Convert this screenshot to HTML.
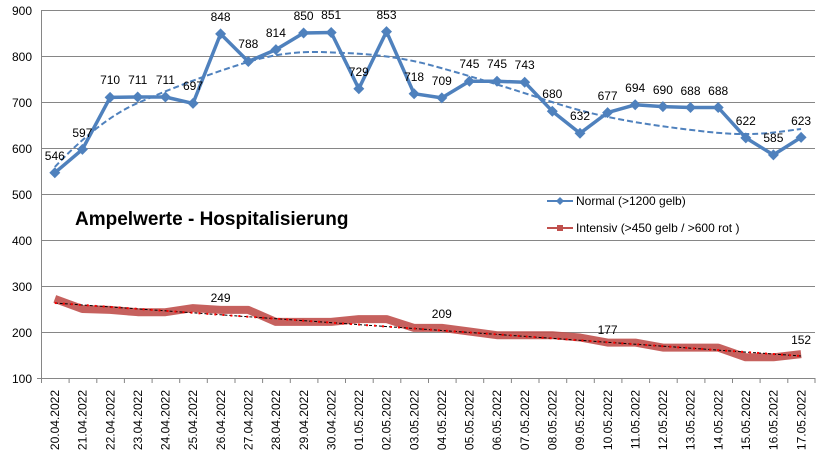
<!DOCTYPE html>
<html><head><meta charset="utf-8"><style>body{margin:0;background:#fff}svg{display:block}text{font-family:"Liberation Sans",Arial,sans-serif}</style></head><body>
<svg width="839" height="468" viewBox="0 0 839 468" xmlns="http://www.w3.org/2000/svg">
<g stroke="#868686" stroke-width="1">
<line x1="41" y1="10.5" x2="815" y2="10.5"/><line x1="41" y1="56.5" x2="815" y2="56.5"/><line x1="41" y1="102.5" x2="815" y2="102.5"/><line x1="41" y1="148.5" x2="815" y2="148.5"/><line x1="41" y1="194.5" x2="815" y2="194.5"/><line x1="41" y1="240.5" x2="815" y2="240.5"/><line x1="41" y1="286.5" x2="815" y2="286.5"/><line x1="41" y1="332.5" x2="815" y2="332.5"/><line x1="37" y1="378.5" x2="815" y2="378.5"/>
<line x1="41.5" y1="10" x2="41.5" y2="383"/>
</g>
<g stroke="#868686">
<path d="M41.5 378v5M69.1 378v5M96.8 378v5M124.4 378v5M152.1 378v5M179.7 378v5M207.3 378v5M235 378v5M262.6 378v5M290.3 378v5M317.9 378v5M345.5 378v5M373.2 378v5M400.8 378v5M428.5 378v5M456.1 378v5M483.7 378v5M511.4 378v5M539 378v5M566.7 378v5M594.3 378v5M621.9 378v5M649.6 378v5M677.2 378v5M704.9 378v5M732.5 378v5M760.1 378v5M787.8 378v5M815 378v5"/>
</g>
<g font-size="12" fill="#000" text-anchor="end">
<text x="32" y="15">900</text><text x="32" y="61">800</text><text x="32" y="107">700</text><text x="32" y="153">600</text><text x="32" y="199">500</text><text x="32" y="245">400</text><text x="32" y="291">300</text><text x="32" y="337">200</text><text x="32" y="383">100</text>
</g>
<g font-size="12" fill="#000" text-anchor="end">
<text transform="translate(59,390) rotate(-90)">20.04.2022</text>
<text transform="translate(86.6,390) rotate(-90)">21.04.2022</text>
<text transform="translate(114.3,390) rotate(-90)">22.04.2022</text>
<text transform="translate(141.9,390) rotate(-90)">23.04.2022</text>
<text transform="translate(169.6,390) rotate(-90)">24.04.2022</text>
<text transform="translate(197.2,390) rotate(-90)">25.04.2022</text>
<text transform="translate(224.8,390) rotate(-90)">26.04.2022</text>
<text transform="translate(252.5,390) rotate(-90)">27.04.2022</text>
<text transform="translate(280.1,390) rotate(-90)">28.04.2022</text>
<text transform="translate(307.8,390) rotate(-90)">29.04.2022</text>
<text transform="translate(335.4,390) rotate(-90)">30.04.2022</text>
<text transform="translate(363,390) rotate(-90)">01.05.2022</text>
<text transform="translate(390.7,390) rotate(-90)">02.05.2022</text>
<text transform="translate(418.3,390) rotate(-90)">03.05.2022</text>
<text transform="translate(446,390) rotate(-90)">04.05.2022</text>
<text transform="translate(473.6,390) rotate(-90)">05.05.2022</text>
<text transform="translate(501.2,390) rotate(-90)">06.05.2022</text>
<text transform="translate(528.9,390) rotate(-90)">07.05.2022</text>
<text transform="translate(556.5,390) rotate(-90)">08.05.2022</text>
<text transform="translate(584.2,390) rotate(-90)">09.05.2022</text>
<text transform="translate(611.8,390) rotate(-90)">10.05.2022</text>
<text transform="translate(639.4,390) rotate(-90)">11.05.2022</text>
<text transform="translate(667.1,390) rotate(-90)">12.05.2022</text>
<text transform="translate(694.7,390) rotate(-90)">13.05.2022</text>
<text transform="translate(722.4,390) rotate(-90)">14.05.2022</text>
<text transform="translate(750,390) rotate(-90)">15.05.2022</text>
<text transform="translate(777.6,390) rotate(-90)">16.05.2022</text>
<text transform="translate(805.3,390) rotate(-90)">17.05.2022</text>
</g>
<!-- Normal trend -->
<path d="M54.8 167 C80 140 110 115 137.7 103 S205 75 248 62 S320 52 345 53 S400 57 430 65 S500 85 552 102 S650 125 700 131 S770 133 801 129" fill="none" stroke="#4f81bd" stroke-width="2" stroke-dasharray="6,3"/>
<!-- Intensiv thick -->
<polyline fill="none" stroke="#c0504d" stroke-width="8" stroke-opacity="0.9" stroke-linejoin="round" points="54.8,298.9 82.4,309 110.1,309.9 137.7,312.2 165.4,312.2 193,308.1 220.6,309.9 248.3,309.9 275.9,321.9 303.6,321.9 331.2,321.9 358.8,319.1 386.5,319.1 414.1,327.9 441.8,327.9 469.4,331.5 497,335.2 524.7,335.2 552.3,335.2 580,337.5 607.6,342.6 635.2,342.6 662.9,347.6 690.5,347.6 718.2,347.6 745.8,357.3 773.4,357.3 801.1,354.1"/>
<line x1="54.8" y1="303" x2="801.1" y2="356" stroke="#000" stroke-width="1" stroke-dasharray="3,2"/>
<line x1="54.8" y1="303" x2="801.1" y2="356" stroke="#ff0000" stroke-width="2" stroke-dasharray="2,6"/>
<!-- Normal line -->
<polyline fill="none" stroke="#4f81bd" stroke-width="3.5" stroke-linejoin="round" points="54.8,172.8 82.4,149.4 110.1,97.4 137.7,97 165.4,97 193,103.4 220.6,33.9 248.3,61.5 275.9,49.6 303.6,33 331.2,32.5 358.8,88.7 386.5,31.6 414.1,93.7 441.8,97.9 469.4,81.3 497,81.3 524.7,82.2 552.3,111.2 580,133.3 607.6,112.6 635.2,104.8 662.9,106.6 690.5,107.5 718.2,107.5 745.8,137.9 773.4,154.9 801.1,137.4"/>
<g fill="#4f81bd">
<path d="M54.8 167.3l5.5 5.5-5.5 5.5-5.5-5.5z"/><path d="M82.4 143.9l5.5 5.5-5.5 5.5-5.5-5.5z"/><path d="M110.1 91.9l5.5 5.5-5.5 5.5-5.5-5.5z"/><path d="M137.7 91.5l5.5 5.5-5.5 5.5-5.5-5.5z"/><path d="M165.4 91.5l5.5 5.5-5.5 5.5-5.5-5.5z"/><path d="M193 97.9l5.5 5.5-5.5 5.5-5.5-5.5z"/><path d="M220.6 28.4l5.5 5.5-5.5 5.5-5.5-5.5z"/><path d="M248.3 56l5.5 5.5-5.5 5.5-5.5-5.5z"/><path d="M275.9 44.1l5.5 5.5-5.5 5.5-5.5-5.5z"/><path d="M303.6 27.5l5.5 5.5-5.5 5.5-5.5-5.5z"/><path d="M331.2 27l5.5 5.5-5.5 5.5-5.5-5.5z"/><path d="M358.8 83.2l5.5 5.5-5.5 5.5-5.5-5.5z"/><path d="M386.5 26.1l5.5 5.5-5.5 5.5-5.5-5.5z"/><path d="M414.1 88.2l5.5 5.5-5.5 5.5-5.5-5.5z"/><path d="M441.8 92.4l5.5 5.5-5.5 5.5-5.5-5.5z"/><path d="M469.4 75.8l5.5 5.5-5.5 5.5-5.5-5.5z"/><path d="M497 75.8l5.5 5.5-5.5 5.5-5.5-5.5z"/><path d="M524.7 76.7l5.5 5.5-5.5 5.5-5.5-5.5z"/><path d="M552.3 105.7l5.5 5.5-5.5 5.5-5.5-5.5z"/><path d="M580 127.8l5.5 5.5-5.5 5.5-5.5-5.5z"/><path d="M607.6 107.1l5.5 5.5-5.5 5.5-5.5-5.5z"/><path d="M635.2 99.3l5.5 5.5-5.5 5.5-5.5-5.5z"/><path d="M662.9 101.1l5.5 5.5-5.5 5.5-5.5-5.5z"/><path d="M690.5 102l5.5 5.5-5.5 5.5-5.5-5.5z"/><path d="M718.2 102l5.5 5.5-5.5 5.5-5.5-5.5z"/><path d="M745.8 132.4l5.5 5.5-5.5 5.5-5.5-5.5z"/><path d="M773.4 149.4l5.5 5.5-5.5 5.5-5.5-5.5z"/><path d="M801.1 131.9l5.5 5.5-5.5 5.5-5.5-5.5z"/>
</g>
<g font-size="12" fill="#000" text-anchor="middle">
<text x="54.8" y="160">546</text><text x="82.4" y="137">597</text><text x="110.1" y="84">710</text><text x="137.7" y="84">711</text><text x="165.4" y="84">711</text><text x="193" y="90">697</text><text x="220.6" y="21">848</text><text x="248.3" y="48">788</text><text x="275.9" y="37">814</text><text x="303.6" y="20">850</text><text x="331.2" y="19">851</text><text x="358.8" y="76">729</text><text x="386.5" y="19">853</text><text x="414.1" y="81">718</text><text x="441.8" y="85">709</text><text x="469.4" y="68">745</text><text x="497" y="68">745</text><text x="524.7" y="69">743</text><text x="552.3" y="98">680</text><text x="580" y="120">632</text><text x="607.6" y="100">677</text><text x="635.2" y="92">694</text><text x="662.9" y="94">690</text><text x="690.5" y="95">688</text><text x="718.2" y="95">688</text><text x="745.8" y="125">622</text><text x="773.4" y="142">585</text><text x="801.1" y="125">623</text>
<text x="220.6" y="302">249</text><text x="441.8" y="318">209</text><text x="607.6" y="334">177</text><text x="801.1" y="344">152</text>
</g>
<text x="75" y="225" font-size="19" font-weight="bold" fill="#000">Ampelwerte - Hospitalisierung</text>
<g font-size="12" fill="#000">
<line x1="547" y1="201" x2="573" y2="201" stroke="#4f81bd" stroke-width="2"/><path d="M560 197l4 4-4 4-4-4z" fill="#4f81bd"/>
<text x="576" y="205">Normal (&gt;1200 gelb)</text>
<line x1="547" y1="228" x2="573" y2="228" stroke="#c0504d" stroke-width="2"/><rect x="557" y="225" width="6" height="6" fill="#c0504d"/>
<text x="576" y="232">Intensiv (&gt;450 gelb / &gt;600 rot )</text>
</g>
</svg>
</body></html>
